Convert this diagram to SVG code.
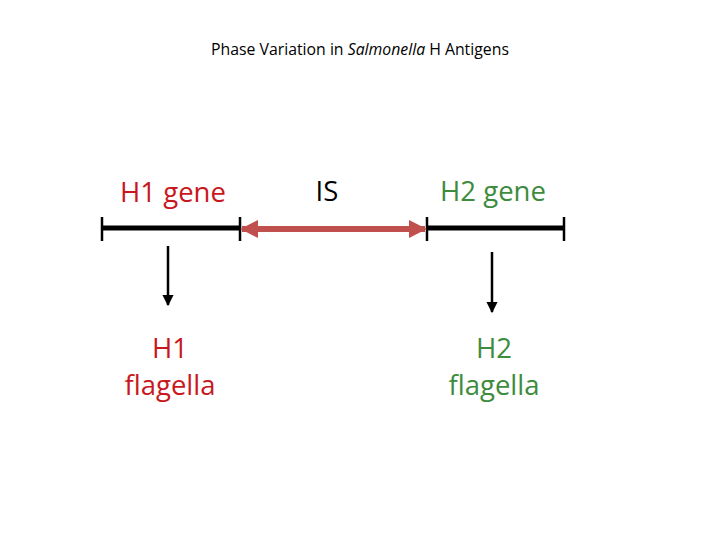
<svg xmlns="http://www.w3.org/2000/svg" width="720" height="540" viewBox="0 0 720 540">
<style>
text{font-family:"Open Sans","Liberation Sans",sans-serif;}
.lbl{font-size:27.5px;text-anchor:middle;}
.red{fill:#c8181e;}
.green{fill:#3d8b3d;}
.blk{stroke:#000;fill:none;}
</style>
<defs>
<marker id="ah" viewBox="0 0 10 10" refX="9" refY="5" markerWidth="3" markerHeight="3" orient="auto-start-reverse"><path d="M0,0L10,5L0,10z" fill="#c0504d"/></marker>
<marker id="bh" viewBox="0 0 10 10" refX="9" refY="5" markerWidth="4.5" markerHeight="4.5" orient="auto"><path d="M0,0L10,5L0,10z" fill="#000"/></marker>
</defs>
<rect width="720" height="540" fill="#fff"/>
<text x="360" y="55" font-size="15.8" text-anchor="middle">Phase Variation in <tspan font-style="italic">Salmonella</tspan> H Antigens</text>
<g id="h1gene"><text class="lbl red" x="173" y="202">H1 gene</text></g>
<g id="is"><text class="lbl" x="327" y="201" fill="#000">IS</text></g>
<g id="h2gene"><text class="lbl green" x="493" y="201">H2 gene</text></g>
<g id="h1flag"><text class="lbl red" x="170" y="358">H1</text><text class="lbl red" x="170" y="395">flagella</text></g>
<g id="h2flag"><text class="lbl green" x="494" y="358">H2</text><text class="lbl green" x="494" y="395">flagella</text></g>
<g id="connectors">
<line class="blk" x1="102" y1="228" x2="240" y2="228" stroke-width="5"/>
<line class="blk" x1="427" y1="228" x2="564" y2="228" stroke-width="5"/>
<line class="blk" x1="102" y1="217" x2="102" y2="241" stroke-width="2.5"/>
<line class="blk" x1="240" y1="217" x2="240" y2="241" stroke-width="2.5"/>
<line class="blk" x1="427" y1="217" x2="427" y2="241" stroke-width="2.5"/>
<line class="blk" x1="564" y1="217" x2="564" y2="241" stroke-width="2.5"/>
<line x1="242" y1="229" x2="425" y2="229" stroke="#c0504d" stroke-width="6" marker-start="url(#ah)" marker-end="url(#ah)"/>
<line class="blk" x1="168" y1="246" x2="168" y2="305" stroke-width="2.5" marker-end="url(#bh)"/>
<line class="blk" x1="492" y1="252" x2="492" y2="312" stroke-width="2.5" marker-end="url(#bh)"/>
</g>
</svg>
